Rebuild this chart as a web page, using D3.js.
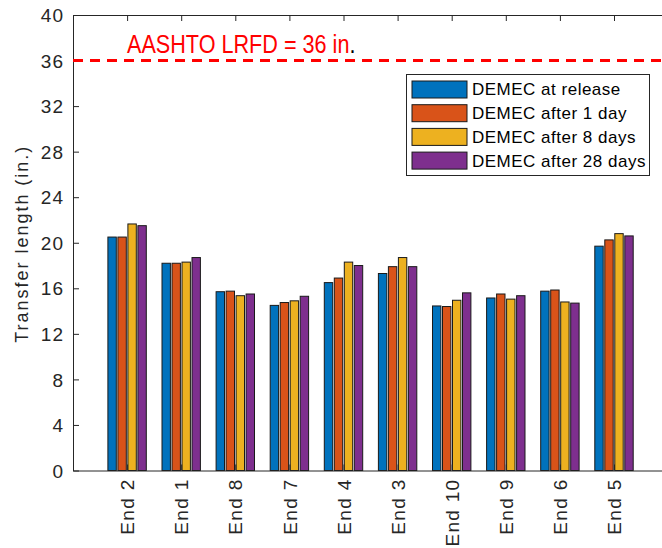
<!DOCTYPE html>
<html><head><meta charset="utf-8">
<script src="https://cdn.jsdelivr.net/npm/d3@7"></script>
<style>body{margin:0;background:#fff;} svg{display:block;font-family:"Liberation Sans",Arial,sans-serif;}</style>
</head><body>
<svg id="c" width="662" height="548"></svg>
<script>
const categories = ["End 2","End 1","End 8","End 7","End 4","End 3","End 10","End 9","End 6","End 5"];
const seriesNames = ["DEMEC at release","DEMEC after 1 day","DEMEC after 8 days","DEMEC after 28 days"];
const atRelease = [20.5, 18.2, 15.7, 14.5, 16.5, 17.3, 14.45, 15.15, 15.75, 19.7];
const after1Day = [20.5, 18.2, 15.75, 14.75, 16.9, 17.9, 14.4, 15.5, 15.85, 20.25];
const after8Days = [21.65, 18.3, 15.35, 14.9, 18.3, 18.7, 14.95, 15.05, 14.8, 20.8];
const after28Days = [21.5, 18.7, 15.5, 15.3, 18.0, 17.9, 15.6, 15.35, 14.7, 20.6];
const seriesColors = ["#0072BD","#D95319","#EDB120","#7E2F8E"];
const yTicks = [0,4,8,12,16,20,24,28,32,36,40];
const limitValue = 36;
const limitLabel = "AASHTO LRFD = 36 in";
const yLabel = "Transfer length (in.)";

const series = [atRelease, after1Day, after8Days, after28Days];
const svg = d3.select("#c");
const L = 73, T = 15, B = 470.5;
const x = d3.scaleLinear().domain([0, 11]).range([L, L + 11*54.1]);
const y = d3.scaleLinear().domain([0, 40]).range([B, T]);
const sub = d3.scaleBand().domain(d3.range(4)).range([-20, 20]).paddingInner(0.16).paddingOuter(0.08);
const axisColor = "#262626";

// bars
categories.forEach((c, i) => {
  const g = svg.append("g").attr("transform", `translate(${x(i+1)},0)`);
  series.forEach((s, k) => {
    g.append("rect")
      .attr("x", sub(k)).attr("width", sub.bandwidth())
      .attr("y", y(s[i])).attr("height", y(0) - y(s[i]))
      .attr("fill", seriesColors[k]).attr("stroke", "#1a1a1a").attr("stroke-width", 1);
  });
});

// left axis
const yAxis = d3.axisLeft(y).tickValues(yTicks).tickSizeInner(-6).tickSizeOuter(0).tickPadding(10);
const ya = svg.append("g").attr("transform", `translate(${L},0)`).call(yAxis);
ya.select(".domain").attr("stroke", axisColor);
ya.selectAll(".tick line").attr("stroke", axisColor);
ya.selectAll(".tick text").attr("fill", axisColor).style("font-size", "19px")
  .style("letter-spacing", "1px").attr("dy", "0.35em").attr("x", -9);

// bottom axis
const xAxis = d3.axisBottom(x).tickValues(d3.range(1, 11)).tickSizeInner(-6).tickSizeOuter(0).tickFormat(d => categories[d-1]);
const xa = svg.append("g").attr("transform", `translate(0,${B})`).call(xAxis);
xa.select(".domain").attr("stroke", axisColor);
xa.selectAll(".tick line").attr("stroke", axisColor);
xa.selectAll(".tick text").attr("fill", axisColor).style("font-size", "19px").style("letter-spacing", "1.3px")
  .attr("text-anchor", "end").attr("transform", "rotate(-90)")
  .attr("x", -8).attr("y", 0).attr("dy", "0.35em");

// top axis
const xTop = d3.axisTop(x).tickValues(d3.range(1, 11)).tickSizeInner(-6).tickSizeOuter(0).tickFormat("");
const xt = svg.append("g").attr("transform", `translate(0,${T})`).call(xTop);
xt.select(".domain").attr("stroke", axisColor);
xt.selectAll(".tick line").attr("stroke", axisColor);

// limit line
svg.append("line").attr("x1", L).attr("x2", 662).attr("y1", y(limitValue)).attr("y2", y(limitValue))
  .attr("stroke", "#FF0000").attr("stroke-width", 3).attr("stroke-dasharray", "10,7");
const ann = svg.append("text").attr("transform", "translate(127,53) scale(0.865,1)")
  .style("font-size", "25px");
ann.append("tspan").attr("fill", "#FF0000").text(limitLabel);
ann.append("tspan").attr("fill", "#000").text(".");

// y label
svg.append("text").attr("transform", `translate(28,${(146.7+342.7)/2}) rotate(-90)`)
  .attr("text-anchor", "middle").attr("fill", axisColor).style("font-size", "18px")
  .attr("textLength", 196).attr("lengthAdjust", "spacing").text(yLabel);

// legend
const lg = svg.append("g");
lg.append("rect").attr("x", 406.5).attr("y", 74.5).attr("width", 243).attr("height", 101)
  .attr("fill", "#fff").attr("stroke", axisColor).attr("stroke-width", 1);
seriesNames.forEach((n, k) => {
  const yy = 81 + k*23.7;
  lg.append("rect").attr("x", 412).attr("y", yy).attr("width", 55).attr("height", 17)
    .attr("fill", seriesColors[k]).attr("stroke", "#1a1a1a").attr("stroke-width", 1);
  lg.append("text").attr("x", 472).attr("y", yy + 8.5).attr("dy", "0.35em")
    .attr("fill", "#000").style("font-size", "17px").style("letter-spacing", "0.5px").text(n);
});
</script>
</body></html>
